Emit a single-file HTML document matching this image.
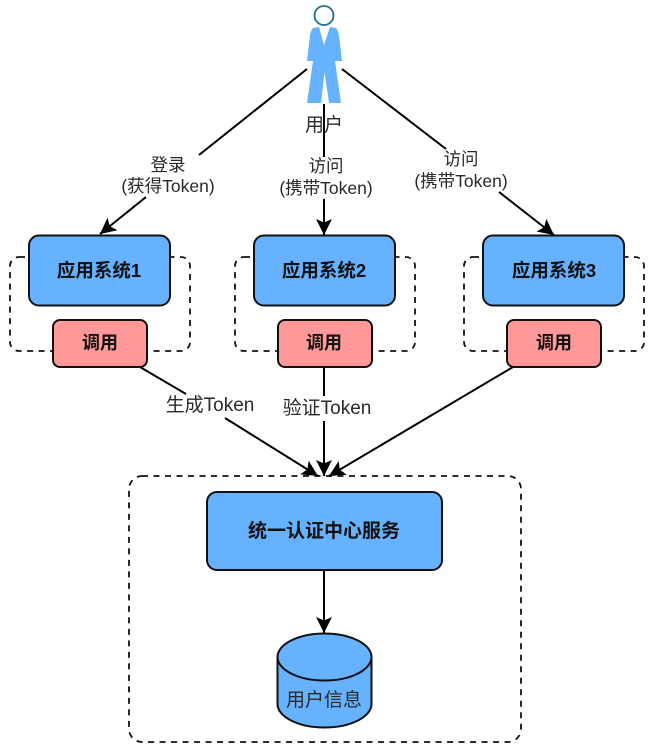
<!DOCTYPE html>
<html><head><meta charset="utf-8">
<style>
html,body{margin:0;padding:0;background:#fff}
svg{display:block}
text{font-family:"Liberation Sans","Noto Sans CJK SC",sans-serif;text-anchor:middle;fill:#222}
.b{font-weight:bold;font-size:18.500px;fill:#111}
.c{font-weight:bold;font-size:18px;fill:#111}
.s{font-weight:bold;font-size:19px;fill:#111}
.l{font-size:17.500px;fill:#2a2a2a}
.m{font-size:19px;fill:#2a2a2a}
.blue{fill:#66b2ff;stroke:#111;stroke-width:2}
.red{fill:#ff9999;stroke:#111;stroke-width:2}
.dash{fill:none;stroke:#111;stroke-width:1.800;stroke-dasharray:6 5.500}
.ln{fill:none;stroke:#000;stroke-width:2}
</style></head>
<body>
<svg width="657" height="755" viewBox="0 0 657 755" xmlns="http://www.w3.org/2000/svg">
<defs>
<marker id="a" markerUnits="userSpaceOnUse" markerWidth="20" markerHeight="20" refX="16" refY="9" orient="auto">
<path d="M0,1 L16,9 L0,17 L3.500,9 Z" fill="#000"/>
</marker>
</defs>

<!-- dashed groups -->
<rect class="dash" x="10" y="257" width="180" height="94" rx="9"/>
<rect class="dash" x="235" y="257" width="180" height="94" rx="9"/>
<rect class="dash" x="464" y="257" width="180" height="94" rx="9"/>
<rect class="dash" x="129" y="476" width="392" height="266" rx="13"/>

<!-- connectors -->
<path class="ln" d="M307,69 L199,155"/>
<path class="ln" marker-end="url(#a)" d="M146,197 L100,234"/>
<path class="ln" d="M324,104 L324,157"/>
<path class="ln" marker-end="url(#a)" d="M324,199 L324,235"/>
<path class="ln" d="M342,69 L446,149"/>
<path class="ln" marker-end="url(#a)" d="M499,192 L554,235"/>
<path class="ln" d="M140,367 L186,394"/>
<path class="ln" marker-end="url(#a)" d="M225,418 L318,476"/>
<path class="ln" d="M324,367 L324,396"/>
<path class="ln" marker-end="url(#a)" d="M324,421 L324,476"/>
<path class="ln" marker-end="url(#a)" d="M513,367 L329,476"/>
<path class="ln" marker-end="url(#a)" d="M324,570 L324,633"/>

<!-- person -->
<circle cx="324" cy="15.500" r="9.500" fill="#fff" stroke="#1f6f95" stroke-width="1.800"/>
<path d="M313,28 L319,27 L324,45 L330,27 L336,28 Q338,30 339,35 L342,61 L335,61 L341,103 L329,103 L324.500,72 L321,103 L307,103 L313,61 L307,61 L310,35 Q311,30 313,28 Z" fill="#66b2ff"/>
<text x="324" y="131" class="m">用户</text>

<!-- edge labels -->
<text x="168" y="171" class="l">登录</text>
<text x="168" y="192" class="l">(获得Token)</text>
<text x="326" y="172" class="l">访问</text>
<text x="326" y="194" class="l">(携带Token)</text>
<text x="461" y="165" class="l">访问</text>
<text x="461" y="187" class="l">(携带Token)</text>
<text x="210" y="411" class="m">生成Token</text>
<text x="327" y="414" class="m">验证Token</text>

<!-- boxes -->
<rect class="blue" x="29" y="235.500" width="141" height="70" rx="10"/>
<text x="99" y="277" class="b">应用系统1</text>
<rect class="red" x="53" y="320" width="94" height="47" rx="7"/>
<text x="100" y="349" class="c">调用</text>

<rect class="blue" x="254" y="235.500" width="141" height="70" rx="10"/>
<text x="324" y="277" class="b">应用系统2</text>
<rect class="red" x="278" y="320" width="94" height="47" rx="7"/>
<text x="324" y="349" class="c">调用</text>

<rect class="blue" x="483" y="235.500" width="141" height="70" rx="10"/>
<text x="554" y="277" class="b">应用系统3</text>
<rect class="red" x="507" y="320" width="94" height="47" rx="7"/>
<text x="554" y="349" class="c">调用</text>

<rect class="blue" x="207" y="492" width="235" height="78" rx="10"/>
<text x="324" y="537" class="s">统一认证中心服务</text>

<!-- cylinder -->
<path class="blue" d="M277.500,657 A47,23.500 0 0 1 371.500,657 L371.500,704 A47,23.500 0 0 1 277.500,704 Z"/>
<path d="M277.500,657 A47,23.500 0 0 0 371.500,657" fill="none" stroke="#111" stroke-width="2"/>
<text x="324" y="706" class="m">用户信息</text>
</svg>
</body></html>
